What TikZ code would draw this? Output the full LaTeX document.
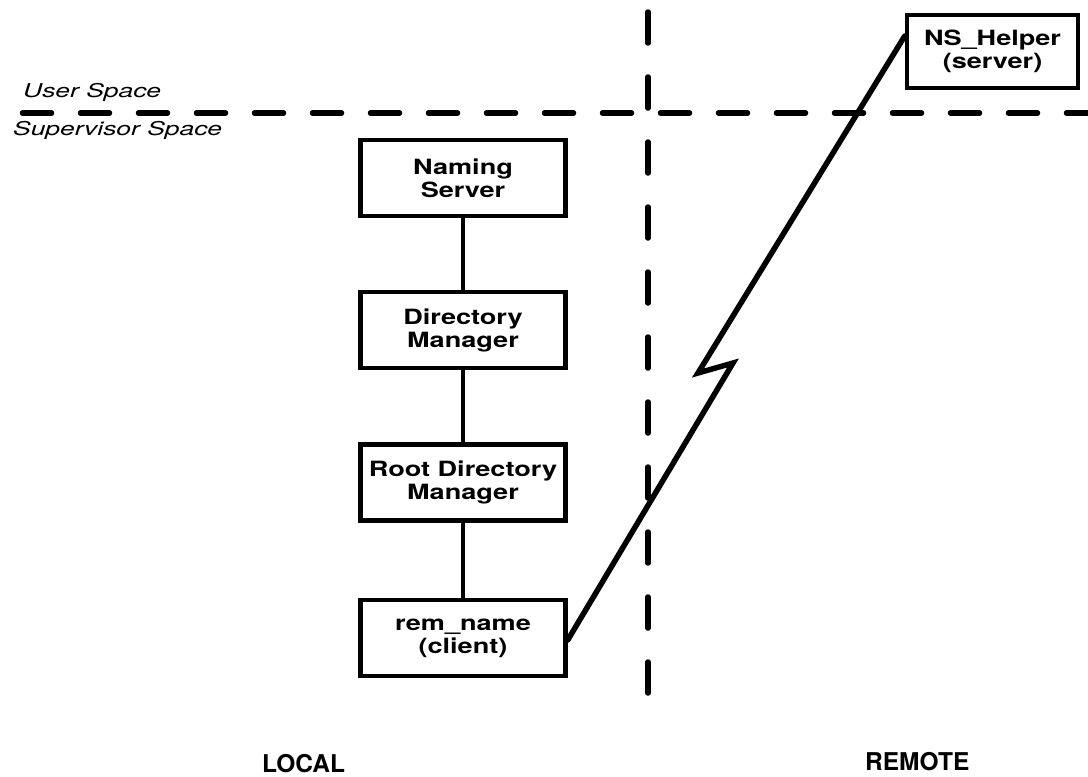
\documentclass[tikz,border=0pt]{standalone}
\usepackage{graphicx}
\usepackage{fontspec}
\newfontfamily\hv{TeX Gyre Heros}
\usetikzlibrary{calc}
\newcommand\wb[1]{\scalebox{1.29}[1]{#1}}
\newcommand\wi[1]{\scalebox{1.39}[1]{#1}}
\tikzset{
  box/.style={draw, line width=4.5pt, minimum width=205pt, minimum height=76pt,
    inner sep=0pt, align=center, font=\hv\bfseries\fontsize{21}{23}\selectfont},
  link/.style={line width=4.5pt},
  bolt/.style={line width=5.5pt, line join=miter, line cap=round},
  hdash/.style={line width=5.5pt, line cap=round, dash pattern=on 29pt off 29pt},
  vdash/.style={line width=5.5pt, line cap=round, dash pattern=on 31pt off 34pt},
  spacelbl/.style={anchor=base west, inner sep=0pt, font=\hv\itshape\fontsize{19}{22}\selectfont},
  sidelbl/.style={anchor=base west, inner sep=0pt, font=\hv\bfseries\fontsize{24.5}{28}\selectfont}
}
\begin{document}
\begin{tikzpicture}[x=1pt,y=-1pt]
\useasboundingbox (0,0) rectangle (1088,777);
% dashed separators
\coordinate (hl) at (22.5,113);
\coordinate (hr) at (1095,113);
\coordinate (vt) at (648,12);
\coordinate (vb) at (648,702);
\draw[hdash] (hl) -- (hr);
\draw[vdash] (vt) -- (vb);
% labels
\node[spacelbl] (us) at (23,97) {\wi{User Space}};
\node[spacelbl] (ss) at (13,135) {\wi{Supervisor Space}};
\node[sidelbl] (loc) at (262,772) {LOCAL};
\node[sidelbl] (rem2) at (865,770) {REMOTE};
% boxes
\node[box] (nsv) at (463,178) {\wb{Naming}\\\wb{Server}};
\node[box] (dm) at (463,330) {\wb{Directory}\\\wb{Manager}};
\node[box] (rdm) at (463,482.5) {\wb{Root Directory}\\\wb{Manager}};
\node[box] (rem) at (463,638) {\wb{rem\_name}\\\wb{(client)}};
\node[box, minimum width=171pt, minimum height=73pt] (nsh) at (992.5,51.5) {\wb{NS\_Helper}\\\wb{(server)}};
% vertical links
\draw[link] (nsv.south) -- (dm.north);
\draw[link] (dm.south) -- (rdm.north);
\draw[link] (rdm.south) -- (rem.north);
% lightning link
\coordinate (b1) at (733,363);
\coordinate (b2) at (698,373);
\draw[bolt] ($(rem.east)+(0,2)$) -- (b1) -- (b2) -- ($(nsh.north west)!0.3!(nsh.south west)$);
\end{tikzpicture}
\end{document}
